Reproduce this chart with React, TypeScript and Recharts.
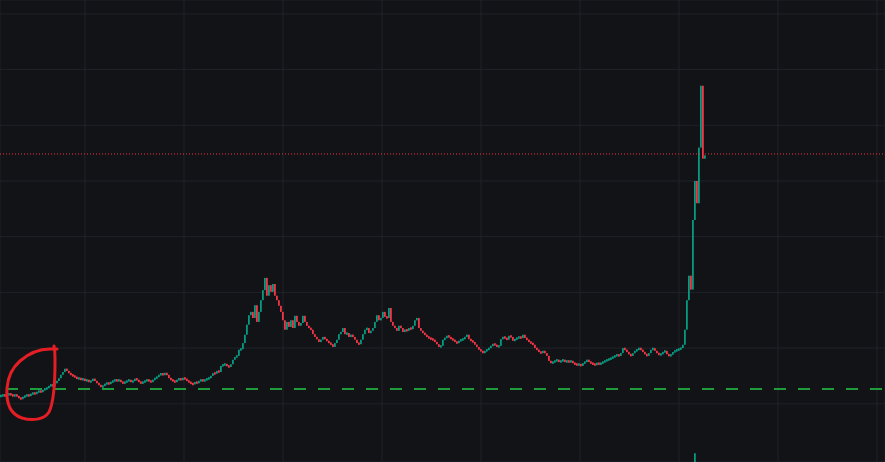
import { ComposedChart, Bar, XAxis, YAxis, CartesianGrid, ReferenceLine } from 'recharts';

// one close per candle left to right
const closes = [
  11.4, 11.6, 11.4, 11.6, 11.8, 11.6, 11.4, 11.6, 11.4, 11.0,
  10.9, 11.2, 11.4, 11.6, 11.4, 11.8, 11.9, 11.8, 12.1, 12.3,
  12.1, 12.5, 12.7, 12.8, 13.2, 13.4, 13.2, 13.7, 14.1, 14.6,
  15.2, 15.7, 16.3, 15.9, 15.5, 15.2, 15.0, 14.8, 14.5, 14.6,
  14.3, 14.5, 14.1, 14.3, 13.9, 14.1, 14.5, 14.1, 13.7, 13.4,
  13.0, 13.2, 13.6, 13.7, 13.6, 13.9, 14.1, 14.3, 14.1, 14.3,
  13.9, 13.7, 13.9, 14.1, 14.3, 13.9, 14.1, 14.5, 14.3, 13.9,
  13.7, 13.9, 14.1, 14.3, 14.1, 13.9, 14.3, 14.6, 14.8, 15.2,
  15.4, 15.2, 15.5, 15.2, 14.6, 14.3, 14.1, 13.9, 14.3, 14.5,
  14.3, 14.6, 14.5, 14.1, 13.9, 13.6, 13.5, 13.9, 13.7, 14.1,
  14.3, 14.1, 14.3, 14.5, 14.6, 15.0, 15.5, 15.4, 15.9, 15.7,
  16.8, 17.0, 17.1, 16.8, 16.6, 17.1, 17.9, 18.4, 18.6, 19.7,
  19.8, 20.9, 22.4, 24.2, 25.9, 26.5, 25.4, 27.7, 24.7, 26.5,
  28.6, 30.4, 32.6, 29.4, 31.3, 30.1, 31.5, 29.4, 28.6, 27.6,
  26.5, 25.0, 23.3, 24.7, 23.8, 25.0, 23.6, 25.8, 24.7, 24.0,
  24.5, 25.8, 24.7, 24.0, 23.6, 23.3, 22.5, 22.0, 21.6, 21.1,
  21.5, 22.0, 21.6, 21.3, 20.9, 20.7, 20.2, 20.9, 21.5, 22.5,
  22.9, 23.6, 22.5, 22.7, 22.0, 22.4, 22.0, 21.5, 20.9, 20.7,
  21.5, 22.5, 23.3, 23.6, 22.7, 23.1, 23.6, 24.7, 25.9, 25.0,
  25.4, 26.5, 25.6, 25.4, 27.2, 24.7, 24.0, 23.6, 23.1, 24.0,
  23.6, 22.9, 23.3, 23.1, 23.6, 23.4, 24.0, 25.0, 25.4, 23.6,
  23.1, 22.7, 22.4, 22.0, 21.8, 21.6, 21.5, 21.1, 20.7, 20.2,
  20.4, 21.5, 21.8, 22.2, 22.0, 21.6, 21.5, 21.1, 20.9, 21.3,
  21.5, 21.6, 22.0, 22.4, 21.6, 21.3, 21.1, 20.6, 20.2, 19.7,
  19.5, 19.1, 19.5, 19.7, 20.0, 20.4, 20.7, 20.6, 20.2, 20.4,
  21.6, 22.0, 21.8, 21.5, 22.2, 22.0, 21.3, 21.6, 21.8, 22.0,
  21.8, 22.4, 21.8, 21.5, 21.1, 20.9, 20.6, 20.0, 19.7, 19.3,
  19.1, 19.5, 19.1, 18.6, 17.7, 17.3, 17.5, 17.7, 17.9, 17.5,
  17.7, 17.9, 17.5, 17.7, 17.5, 17.7, 17.3, 17.1, 17.0, 17.1,
  16.8, 17.3, 17.5, 17.9, 17.5, 17.3, 17.1, 17.0, 17.3, 17.1,
  17.3, 17.5, 17.7, 17.9, 18.0, 18.2, 18.4, 18.6, 18.8, 18.6,
  19.1, 20.0, 19.7, 19.3, 18.9, 18.6, 19.1, 19.5, 19.7, 20.0,
  19.7, 19.3, 18.9, 18.6, 19.1, 19.7, 20.0, 19.5, 19.1, 18.8,
  18.9, 19.3, 19.5, 18.9, 18.6, 18.8, 19.3, 19.5, 19.7, 19.8,
  20.0, 20.6, 23.3, 28.6, 33.0, 30.5, 43.0, 50.0, 46.0, 56.0,
  67.1, 54.0, 54.6,
];

const gridTimes = [42, 91.5, 141, 190.5, 240, 289.5, 339, 388.5, 438];
const gridLevels = [0, 10, 20, 30, 40, 50, 60, 70, 80];
const alertLevel = 54.85;
const supportLevel = 12.66;
const volumeSpikes = [{ i: 347, v: 1.9 }];

const UP = '#089981';
const DOWN = '#f23645';
const BG = '#121317';
const GRID = '#1f2228';

const rows = closes.map((c, i) => {
  const o = i === 0 ? c : closes[i - 1];
  const spike = volumeSpikes.find((s) => s.i === i);
  return { i, o, c, body: [Math.min(o, c), Math.max(o, c)], vol: spike ? spike.v : 0 };
});

// thin bodies get a minimum height so the dense series reads like the original
function Candle(props: any) {
  const { x, y, width, height, payload } = props;
  if (x == null || y == null || !payload) return null;
  const top = Math.min(y, y + height);
  const h = Math.abs(height);
  const minH = 2.5;
  const drawTop = h < minH ? top - (minH - h) / 2 : top;
  return (
    <rect
      x={x}
      y={drawTop}
      width={width}
      height={Math.max(h, minH)}
      fill={payload.c >= payload.o ? UP : DOWN}
    />
  );
}

export default function App() {
  return (
    <div style={{ position: 'absolute', left: 0, top: 0, width: 885, height: 462, background: BG, overflow: 'hidden' }}>
      <ComposedChart width={885} height={462} data={rows} margin={{ top: 0, right: 0, bottom: 0, left: 0 }}>
        <CartesianGrid stroke={GRID} />
        <XAxis dataKey="i" type="number" domain={[-0.5, 442]} ticks={gridTimes} allowDataOverflow hide />
        <XAxis xAxisId="vol" dataKey="i" type="number" domain={[-0.5, 442]} allowDataOverflow hide />
        <YAxis domain={[-0.45, 82.49]} ticks={gridLevels} allowDataOverflow hide />
        <YAxis yAxisId="vol" domain={[0, 100]} hide />
        <ReferenceLine y={alertLevel} stroke={DOWN} strokeDasharray="1 2" />
        <ReferenceLine y={supportLevel} stroke="#1f9d3c" strokeWidth={2} strokeDasharray="12 12" strokeDashoffset={18} />
        <Bar dataKey="body" barSize={2} shape={Candle} isAnimationActive={false} />
        <Bar dataKey="vol" xAxisId="vol" yAxisId="vol" barSize={2} fill={UP} isAnimationActive={false} />
      </ComposedChart>
      <svg width={885} height={462} style={{ position: 'absolute', left: 0, top: 0, pointerEvents: 'none' }}>
        <path
          d="M 57 349 L 50 349 C 38 349, 28 354, 20 361 C 12 368, 8 376, 7 388 C 6 402, 10 414, 22 418 C 32 421, 44 420, 49 412 C 54 402, 55 380, 55 362 C 55 355, 55 350, 54 346"
          fill="none"
          stroke="#e31e24"
          strokeWidth={3}
          strokeLinecap="round"
          strokeLinejoin="round"
        />
      </svg>
    </div>
  );
}
